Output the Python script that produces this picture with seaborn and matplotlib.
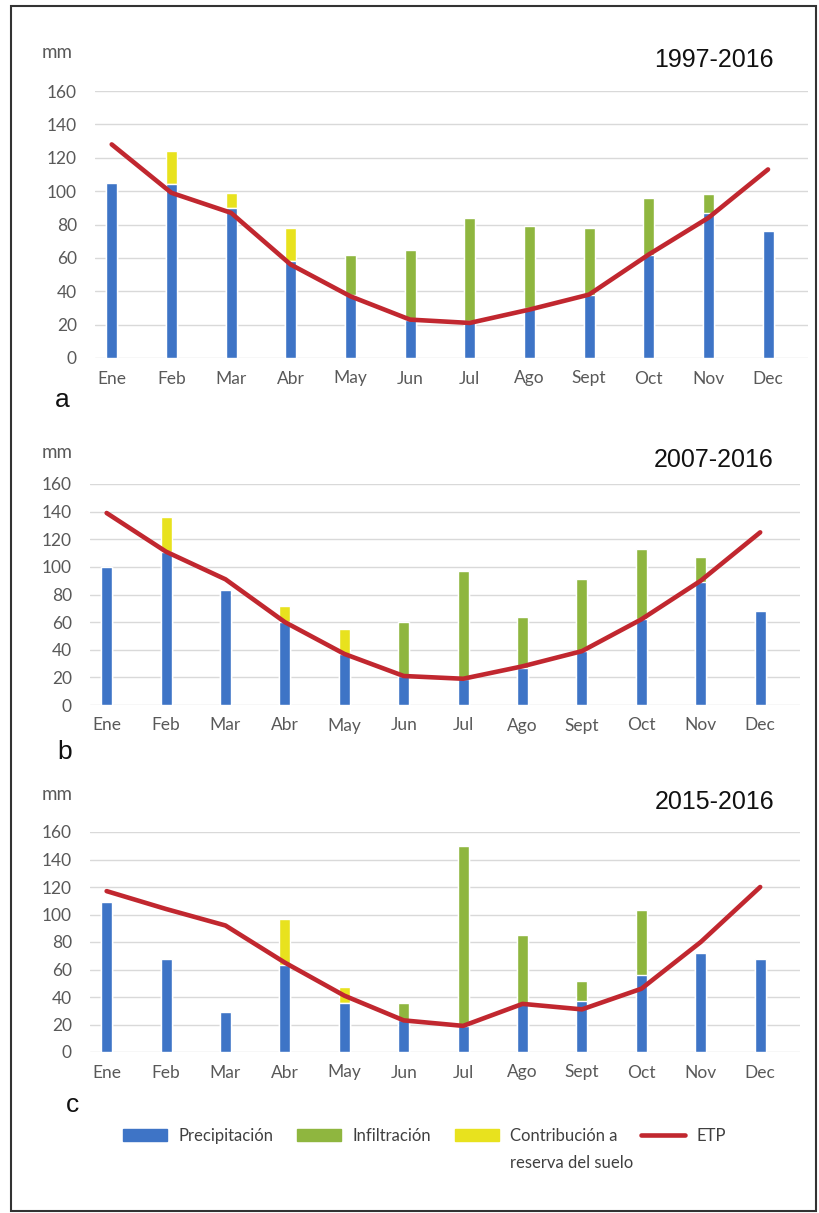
import numpy as np
import seaborn as sns
import matplotlib.pyplot as plt
import matplotlib.patches as mpatches
from matplotlib.lines import Line2D

sns.set_style('white')
plt.rcParams['font.family'] = ['Lato', 'DejaVu Sans']

BLUE = '#3E74C6'
GREEN = '#8FB63F'
YELLOW = '#E8E21E'
RED = '#C1272F'
GREY = '#595959'

months = ['Ene', 'Feb', 'Mar', 'Abr', 'May', 'Jun', 'Jul', 'Ago', 'Sept', 'Oct', 'Nov', 'Dec']

# 1997-2016
precip_a = [105, 104, 90, 58, 38, 23, 22, 30, 38, 62, 87, 76]
infil_a = [0, 0, 0, 0, 24, 42, 62, 49, 40, 34, 11, 0]
contrib_a = [0, 20, 9, 20, 0, 0, 0, 0, 0, 0, 0, 0]
etp_a = [128, 99, 87, 56, 37, 23, 21, 29, 38, 62, 84, 113]

# 2007-2016
precip_b = [100, 111, 83, 60, 37, 21, 19, 27, 39, 62, 89, 68]
infil_b = [0, 0, 0, 0, 0, 39, 78, 37, 52, 51, 18, 0]
contrib_b = [0, 25, 0, 12, 18, 0, 0, 0, 0, 0, 0, 0]
etp_b = [139, 111, 91, 60, 37, 21, 19, 28, 39, 62, 90, 125]

# 2015-2016
precip_c = [109, 68, 29, 63, 36, 23, 19, 35, 37, 56, 72, 68]
infil_c = [0, 0, 0, 0, 0, 13, 131, 50, 15, 47, 0, 0]
contrib_c = [0, 0, 0, 34, 11, 0, 0, 0, 0, 0, 0, 0]
etp_c = [117, 104, 92, 65, 41, 23, 19, 35, 31, 46, 80, 120]

W, H = 820, 1213
fig = plt.figure(figsize=(W / 100, H / 100), dpi=100)


def px_axes(left, right, top, bottom):
    return fig.add_axes([left / W, 1 - bottom / H, (right - left) / W, (bottom - top) / H])


def draw_panel(ax, precip, infil, contrib, etp):
    precip = np.array(precip)
    infil = np.array(infil)
    contrib = np.array(contrib)
    # stacked bars: draw the totals first, then cover with the lower parts
    sns.barplot(x=months, y=precip + infil + contrib, color=YELLOW, width=0.185,
                saturation=1, ax=ax, zorder=2)
    sns.barplot(x=months, y=precip + infil, color=GREEN, width=0.185,
                saturation=1, ax=ax, zorder=2)
    sns.barplot(x=months, y=precip, color=BLUE, width=0.185,
                saturation=1, ax=ax, zorder=2)
    sns.lineplot(x=np.arange(len(months)), y=etp, color=RED, lw=3.3, ax=ax,
                 zorder=3, solid_joinstyle='round')
    ax.set_xlim(-0.28, 11.67)
    ax.set_ylim(0, 160)
    ax.set_yticks(range(0, 161, 20))
    ax.yaxis.grid(True, color='#D9D9D9', lw=1)
    ax.set_axisbelow(True)
    sns.despine(ax=ax, left=True, bottom=True)
    ax.tick_params(length=0, labelsize=12.5, colors=GREY)
    ax.tick_params(axis='x', pad=9)
    ax.tick_params(axis='y', pad=13)
    ax.set_xlabel('')
    ax.set_ylabel('')


panels = [
    ((95, 808, 91, 358), precip_a, infil_a, contrib_a, etp_a, '1997-2016', 60, 'a', (62, 400)),
    ((90, 800, 484, 705), precip_b, infil_b, contrib_b, etp_b, '2007-2016', 460, 'b', (65, 752)),
    ((90, 800, 832, 1052), precip_c, infil_c, contrib_c, etp_c, '2015-2016', 802, 'c', (73, 1105)),
]

for box, p, i, c, e, title, ty, letter, lpos in panels:
    ax = px_axes(*box)
    draw_panel(ax, p, i, c, e)
    fig.text(774 / W, 1 - ty / H, title, ha='right', va='center', fontsize=18,
             family=['Liberation Sans', 'DejaVu Sans'], color='#111111')
    fig.text(42 / W, 1 - (ty - 8) / H, 'mm', ha='left', va='center', fontsize=13.5, color=GREY)
    fig.text(lpos[0] / W, 1 - lpos[1] / H, letter, ha='center', va='center', fontsize=19,
             family=['Liberation Sans', 'DejaVu Sans'], color='#111111')

handles = [mpatches.Patch(color=BLUE), mpatches.Patch(color=GREEN),
           mpatches.Patch(color=YELLOW), Line2D([], [], color=RED, lw=3.3)]
labels = ['Precipitación', 'Infiltración', 'Contribución a', 'ETP']
leg = fig.legend(handles, labels, loc='upper left', bbox_to_anchor=(123 / W, 1 - 1128 / H),
                 ncol=4, frameon=False, fontsize=12, handlelength=2.64, handletextpad=0.7,
                 columnspacing=1.4, borderpad=0, borderaxespad=0, labelcolor='#404040')

# second line of the soil-reserve label, set right under the first one
fig.canvas.draw()
bb = leg.get_texts()[2].get_window_extent()
fig.text(bb.x0 / W, (bb.y0 - 27) / H, 'reserva del suelo', ha='left', va='bottom',
         fontsize=12, color='#404040')

# thin frame around the whole figure
fig.patches.append(mpatches.Rectangle((11 / W, 2 / H), 805 / W, 1 - 8 / H, transform=fig.transFigure,
                                      fill=False, ec='#333333', lw=1.5))

plt.savefig('out.png', dpi=100)
